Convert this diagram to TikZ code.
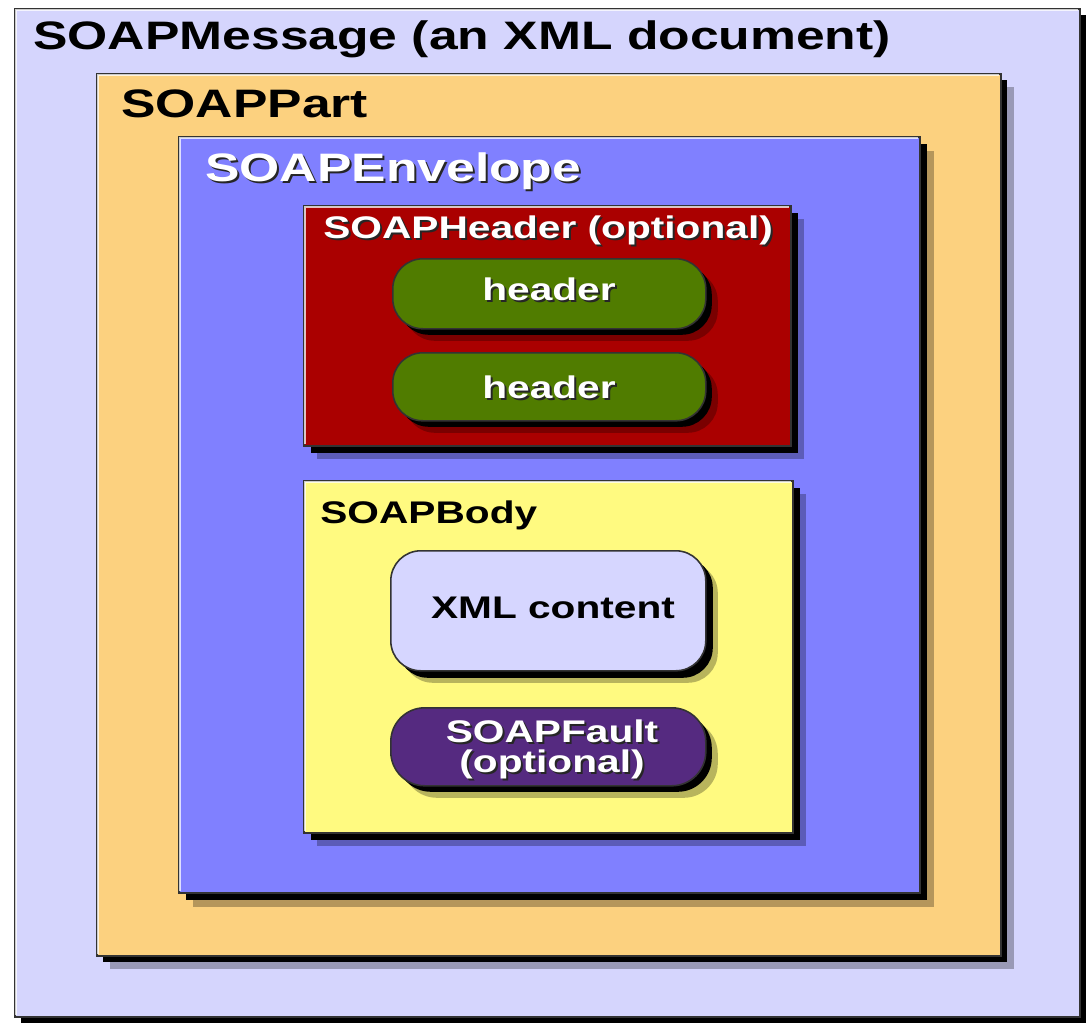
\documentclass[tikz,border=0pt]{standalone}
\usepackage{fontspec}
\setmainfont{Liberation Sans}[FakeStretch=1.3]
\usetikzlibrary{shadows}
\definecolor{cMsg}{HTML}{D5D5FD}
\definecolor{cPart}{HTML}{FCD17F}
\definecolor{cEnv}{HTML}{8080FF}
\definecolor{cHead}{HTML}{AA0000}
\definecolor{cGreen}{HTML}{507C00}
\definecolor{cBody}{HTML}{FFFA80}
\definecolor{cXml}{HTML}{D6D6FF}
\definecolor{cFault}{HTML}{552A80}
\newcommand\bigtxt{\bfseries\fontsize{22.6pt}{26pt}\selectfont}
\newcommand\smalltxt{\bfseries\fontsize{17.8pt}{17pt}\selectfont}
\begin{document}
\begin{tikzpicture}[x=0.02cm,y=-0.02cm,
  frame/.style={draw=black!80, line width=0.9pt, anchor=north west, inner sep=0pt, rectangle},
  softsh/.style={drop shadow={shadow xshift=#1*0.02cm, shadow yshift=-#1*0.02cm, fill=black, opacity=0.28}},
  hardsh/.style={drop shadow={shadow xshift=#1*0.02cm, shadow yshift=-#1*0.02cm, fill=black, opacity=1}},
  pill/.style={frame, rounded corners=30*0.02cm},
  hl/.style={draw=white, line width=1.2pt, opacity=0.75},
  blab/.style={inner sep=0pt, anchor=base west, font=\bigtxt, text=black},
  slab/.style={inner sep=0pt, anchor=base west, font=\smalltxt, text=black},
  wlab/.style={text=white},
  shlab/.style={text=black!85}
]
\useasboundingbox (0,0) rectangle (1092,1024);
\fill[white] (0,0) rectangle (1092,1024);

% SOAPMessage
\node[frame, fill=cMsg, hardsh=6, minimum width=1065*0.02cm, minimum height=1008*0.02cm] (msg) at (14,8) {};
\draw[hl] ([xshift=1.2pt,yshift=1.2pt]msg.south west) |- ([xshift=-1.2pt,yshift=-1.2pt]msg.north east);
\node[blab] (msglab) at (33,50) {SOAPMessage (an XML document)};

% SOAPPart
\node[frame, fill=cPart, softsh=13, hardsh=6, minimum width=904*0.02cm, minimum height=882*0.02cm] (part) at (96,73) {};
\draw[hl] ([xshift=1.2pt,yshift=1.2pt]part.south west) |- ([xshift=-1.2pt,yshift=-1.2pt]part.north east);
\node[blab] (partlab) at (121,117) {SOAPPart};

% SOAPEnvelope
\node[frame, fill=cEnv, softsh=14, hardsh=7, minimum width=741*0.02cm, minimum height=756*0.02cm] (env) at (178,136) {};
\draw[hl] ([xshift=1.2pt,yshift=1.2pt]env.south west) |- ([xshift=-1.2pt,yshift=-1.2pt]env.north east);
\node[blab, shlab] (envlabS) at (207,183) {SOAPEnvelope};
\node[blab, wlab] (envlab) at (205,181) {SOAPEnvelope};

% SOAPHeader
\node[frame, fill=cHead, softsh=13, hardsh=7, minimum width=487*0.02cm, minimum height=240*0.02cm] (hdr) at (303,205) {};
\draw[hl] ([xshift=1.2pt,yshift=1.2pt]hdr.south west) |- ([xshift=-1.2pt,yshift=-1.2pt]hdr.north east);
\node[slab, shlab] (hdrlabS) at (325,240) {SOAPHeader (optional)};
\node[slab, wlab] (hdrlab) at (323,238) {SOAPHeader (optional)};

\node[pill, fill=cGreen, softsh=12, hardsh=6, minimum width=313*0.02cm, minimum height=70*0.02cm] (h1) at (392,258) {};
\node[slab, shlab, anchor=base] (h1labS) at (551,302) {header};
\node[slab, wlab, anchor=base] (h1lab) at (549,300) {header};

\node[pill, fill=cGreen, softsh=12, hardsh=6, minimum width=313*0.02cm, minimum height=68*0.02cm] (h2) at (392,352) {};
\node[slab, shlab, anchor=base] (h2labS) at (551,400) {header};
\node[slab, wlab, anchor=base] (h2lab) at (549,398) {header};

% SOAPBody
\node[frame, fill=cBody, softsh=13, hardsh=7, minimum width=489*0.02cm, minimum height=352*0.02cm] (body) at (303,480) {};
\draw[hl] ([xshift=1.2pt,yshift=1.2pt]body.south west) |- ([xshift=-1.2pt,yshift=-1.2pt]body.north east);
\node[slab] (bodylab) at (320,523) {SOAPBody};

\node[pill, fill=cXml, softsh=12, hardsh=7, minimum width=315*0.02cm, minimum height=120*0.02cm] (xml) at (390,550) {};
\node[slab, anchor=base] (xmllab) at (553,618) {XML content};

\node[pill, fill=cFault, softsh=12, hardsh=6, rounded corners=34*0.02cm, minimum width=315*0.02cm, minimum height=78*0.02cm] (fault) at (390,707) {};
\node[slab, shlab, anchor=center, align=center] (faultlabS) at (554,751) {SOAPFault\\(optional)};
\node[slab, wlab, anchor=center, align=center] (faultlab) at (552,749) {SOAPFault\\(optional)};
\end{tikzpicture}
\end{document}
